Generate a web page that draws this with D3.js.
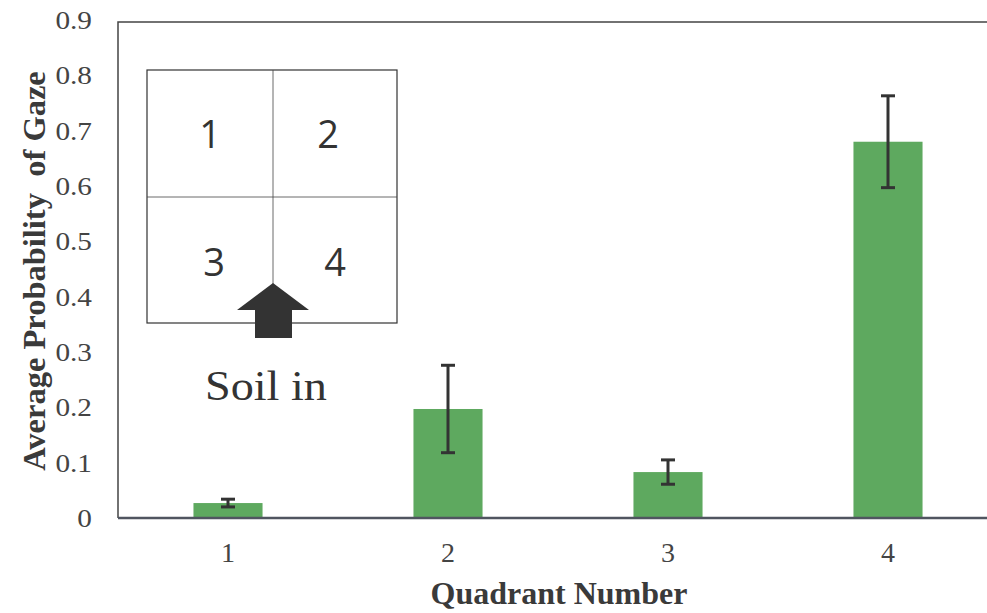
<!DOCTYPE html>
<html><head><meta charset="utf-8">
<script src="https://cdn.jsdelivr.net/npm/d3@7"></script>
<style>body{margin:0;background:#fff}</style>
</head><body>
<svg id="c" width="987" height="613"></svg>
<script>
const categories = ["1","2","3","4"];
const values = [0.027, 0.197, 0.083, 0.680];
const errors = [0.007, 0.079, 0.022, 0.083];
const yTicks = [0,0.1,0.2,0.3,0.4,0.5,0.6,0.7,0.8,0.9];
const quadrantLabels = ["1","2","3","4"];

const svg = d3.select("#c");
const L = 118, R = 998, T = 20, B = 518;
const x = d3.scaleBand().domain(categories).range([L, R]).paddingInner(0.686).paddingOuter(0.343);
const y = d3.scaleLinear().domain([0, 0.9]).range([B, T]);
const serif = "Liberation Serif, 'Times New Roman', serif";

// frame
svg.append("path").attr("d", `M${L},${B}V${T+2}H987`).attr("fill","none").attr("stroke","#444").attr("stroke-width",1.5);

// bars
svg.selectAll("rect.bar").data(values).join("rect").attr("class","bar")
  .attr("x",(d,i)=>x(categories[i])).attr("width",x.bandwidth())
  .attr("y",d=>y(d)).attr("height",d=>B-y(d)).attr("fill","#5ea95f");

// error bars
const eg = svg.append("g").attr("stroke","#333").attr("stroke-width",3);
values.forEach((v,i)=>{
  const cx = x(categories[i]) + x.bandwidth()/2;
  eg.append("line").attr("x1",cx).attr("x2",cx).attr("y1",y(v+errors[i])).attr("y2",y(v-errors[i]));
  eg.append("line").attr("x1",cx-7).attr("x2",cx+7).attr("y1",y(v+errors[i])).attr("y2",y(v+errors[i]));
  eg.append("line").attr("x1",cx-7).attr("x2",cx+7).attr("y1",y(v-errors[i])).attr("y2",y(v-errors[i]));
});

// x axis line
svg.append("line").attr("x1",L).attr("x2",987).attr("y1",B).attr("y2",B).attr("stroke","#505560").attr("stroke-width",2.5);

// y axis labels
const yAxis = d3.axisLeft(y).tickValues(yTicks).tickSize(0).tickPadding(0).tickFormat(d=>d===0?"0":d3.format(".1f")(d));
const ya = svg.append("g").attr("transform",`translate(${L},0)`).call(yAxis);
ya.select(".domain").remove();
ya.selectAll(".tick text")
  .attr("x",0).attr("dy","0.34em")
  .attr("transform","translate(-26,0) scale(1.22,1.05)")
  .attr("font-family",serif).attr("font-size",24).attr("fill","#444");

// x axis labels
const xAxis = d3.axisBottom(x).tickSize(0).tickPadding(24);
const xa = svg.append("g").attr("transform",`translate(0,${B})`).call(xAxis);
xa.select(".domain").remove();
xa.selectAll("text").attr("font-family",serif).attr("font-size",28).attr("fill","#444");

// axis titles
svg.append("text").attr("x",559).attr("y",604).attr("text-anchor","middle")
  .attr("font-family",serif).attr("font-weight","bold").attr("font-size",32).attr("fill","#3a3a3a")
  .text("Quadrant Number");
svg.append("text").attr("transform","translate(45,271) rotate(-90)").attr("text-anchor","middle")
  .attr("font-family",serif).attr("font-weight","bold").attr("font-size",32.5).attr("fill","#3a3a3a")
  .attr("xml:space","preserve").text("Average Probability  of Gaze");

// inset
const inset = svg.append("g");
const bx0 = 147, bx1 = 397, by0 = 70, by1 = 323, mx = 273, my = 197;
inset.append("rect").attr("x",bx0).attr("y",by0).attr("width",bx1-bx0).attr("height",by1-by0).attr("fill","#fff").attr("stroke","#333").attr("stroke-width",1.2);
inset.append("line").attr("x1",mx).attr("x2",mx).attr("y1",by0).attr("y2",by1).attr("stroke","#444").attr("stroke-width",0.8);
inset.append("line").attr("x1",bx0).attr("x2",bx1).attr("y1",my).attr("y2",my).attr("stroke","#444").attr("stroke-width",0.8);
const qpos = [[210,148],[328,148],[214,276],[335,276]];
inset.selectAll("text.q").data(quadrantLabels).join("text").attr("class","q")
  .attr("x",(d,i)=>qpos[i][0]).attr("y",(d,i)=>qpos[i][1]).attr("text-anchor","middle")
  .attr("font-family","Open Sans, Noto Sans, sans-serif").attr("font-size",38).attr("fill","#333").text(d=>d);
inset.append("path").attr("d",`M${mx},283 L309,310 L292,310 L292,338 L255,338 L255,310 L237,310 Z`).attr("fill","#333");
svg.append("text").attr("transform","translate(205,400) scale(1.1,1)").attr("font-family",serif).attr("font-size",42).attr("fill","#333").text("Soil in");
</script>
</body></html>
